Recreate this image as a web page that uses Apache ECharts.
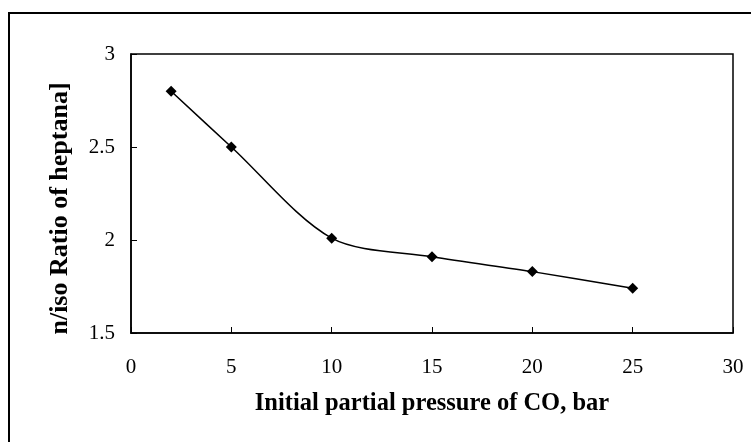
<!DOCTYPE html>
<html>
<head>
<meta charset="utf-8">
<script src="https://cdn.jsdelivr.net/npm/echarts@6/dist/echarts.min.js"></script>
<style>
  html, body { margin: 0; padding: 0; background: #fff; }
  #chart { width: 751px; height: 442px; }
</style>
</head>
<body>
<div id="chart"></div>
<script>
// Initial CO partial pressure (bar) and the n/iso ratio of heptanal
const pressure = [2, 5, 10, 15, 20, 25];
const ratio = [2.80, 2.50, 2.01, 1.91, 1.83, 1.74];

const xTicks = { min: 0, max: 30, interval: 5 };
const yTicks = { min: 1.5, max: 3, interval: 0.5 };

const serif = '"Liberation Serif", "Times New Roman", serif';

const chart = echarts.init(document.getElementById('chart'), null, { renderer: 'canvas' });

chart.setOption({
  animation: false,
  backgroundColor: '#ffffff',
  graphic: [{
    type: 'rect',
    shape: { x: 9, y: 13, width: 800, height: 500 },
    style: { fill: 'none', stroke: '#000', lineWidth: 2 },
    silent: true
  }],
  grid: { left: 131, top: 54, right: 18, bottom: 109, show: true, borderColor: '#000', borderWidth: 1.5, backgroundColor: 'transparent' },
  xAxis: {
    type: 'value',
    min: xTicks.min, max: xTicks.max, interval: xTicks.interval,
    name: 'Initial partial pressure of CO, bar',
    nameLocation: 'middle',
    nameGap: 58,
    nameTextStyle: { fontFamily: serif, fontWeight: 'bold', fontSize: 24.5, color: '#000' },
    axisLine: { show: true, lineStyle: { color: '#000', width: 1.5 } },
    axisTick: { show: true, inside: true, length: 6, lineStyle: { color: '#000', width: 1 } },
    axisLabel: { fontFamily: serif, fontSize: 21, color: '#000', margin: 24 },
    splitLine: { show: false }
  },
  yAxis: {
    type: 'value',
    min: yTicks.min, max: yTicks.max, interval: yTicks.interval,
    name: 'n/iso Ratio of heptana]',
    nameLocation: 'middle',
    nameGap: 58,
    nameRotate: 90,
    nameTextStyle: { fontFamily: serif, fontWeight: 'bold', fontSize: 26, color: '#000', padding: [0, 30, 0, 0] },
    axisLine: { show: true, lineStyle: { color: '#000', width: 1.5 } },
    axisTick: { show: true, inside: true, length: 6, lineStyle: { color: '#000', width: 1 } },
    axisLabel: { fontFamily: serif, fontSize: 21, color: '#000', margin: 16 },
    splitLine: { show: false }
  },
  series: [{
    type: 'line',
    data: pressure.map((p, i) => [p, ratio[i]]),
    smooth: 0.3,
    symbol: 'diamond',
    symbolSize: 11,
    itemStyle: { color: '#000' },
    lineStyle: { color: '#000', width: 1.5 }
  }]
});
</script>
</body>
</html>
